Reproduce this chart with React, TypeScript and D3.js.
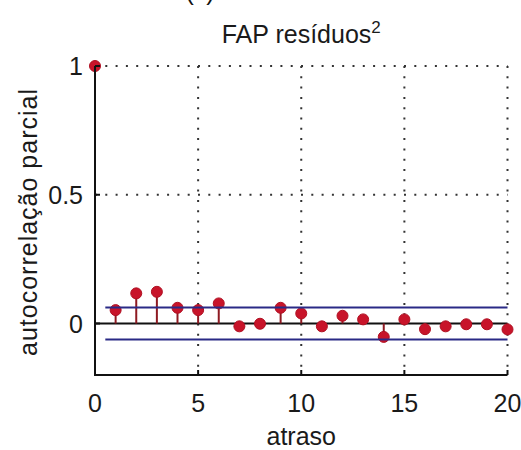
import React, { useEffect, useRef } from 'react';
import * as d3 from 'd3';

// partial autocorrelation of squared residuals, lags 0..20
const lags = [0, 1, 2, 3, 4, 5, 6, 7, 8, 9, 10, 11, 12, 13, 14, 15, 16, 17, 18, 19, 20];
const pacf = [
  1, 0.052, 0.117, 0.123, 0.061, 0.052, 0.078, -0.011, -0.001, 0.061, 0.039,
  -0.011, 0.03, 0.016, -0.052, 0.016, -0.022, -0.011, -0.003, -0.003, -0.023,
];
const bounds = [0.062, -0.062];
const boundStart = 0.5;
const xTicks = [0, 5, 10, 15, 20];
const yTicks = [0, 0.5, 1];

const FONT = '"Liberation Sans", Arial, sans-serif';

const App: React.FC = () => {
  const svgRef = useRef<SVGSVGElement>(null);

  useEffect(() => {
    if (!svgRef.current) return;
    const svg = d3.select(svgRef.current);
    svg.selectAll('*').remove();

    const x = d3.scaleLinear().domain([0, 20]).range([95, 507.5]);
    const y = d3.scaleLinear().domain([-0.2, 1]).range([375, 66]);
    const [x0, x1] = x.range();
    const [yb, yt] = y.range();

    // corner label, mostly cut off at the top edge (as in the source figure)
    svg.append('text')
      .attr('x', 200).attr('y', 0)
      .attr('text-anchor', 'middle')
      .style('font-family', FONT).style('font-size', '25px').style('fill', '#111')
      .text('(c)');

    // dotted grid
    const grid = svg.append('g')
      .attr('stroke', '#333')
      .attr('stroke-width', 2)
      .attr('stroke-dasharray', '2 8.3');
    grid.selectAll('.gx').data(xTicks.filter(d => d > 0)).enter().append('line')
      .attr('x1', d => x(d)).attr('x2', d => x(d))
      .attr('y1', yt).attr('y2', yb);
    grid.selectAll('.gy').data(yTicks.filter(d => d > 0)).enter().append('line')
      .attr('x1', x0).attr('x2', x1)
      .attr('y1', d => y(d)).attr('y2', d => y(d));

    // zero line
    svg.append('line')
      .attr('x1', x(0)).attr('x2', x(20))
      .attr('y1', y(0)).attr('y2', y(0))
      .attr('stroke', '#111').attr('stroke-width', 2);

    // stems
    svg.selectAll('.stem').data(lags).enter().append('line')
      .attr('x1', d => x(d)).attr('x2', d => x(d))
      .attr('y1', y(0)).attr('y2', (d, i) => y(pacf[i]))
      .attr('stroke', '#8e1a22').attr('stroke-width', 2);

    // markers
    svg.selectAll('.dot').data(lags).enter().append('circle')
      .attr('cx', d => x(d)).attr('cy', (d, i) => y(pacf[i]))
      .attr('r', 5.5)
      .attr('fill', '#c8142a')
      .attr('stroke', '#b01022').attr('stroke-width', 1);

    // confidence bounds
    svg.selectAll('.bound').data(bounds).enter().append('line')
      .attr('x1', x(boundStart)).attr('x2', x(20))
      .attr('y1', d => y(d)).attr('y2', d => y(d))
      .attr('stroke', '#2a2a86').attr('stroke-width', 2);

    // axes
    const axes = svg.append('g').attr('stroke', '#111').attr('stroke-width', 2).attr('fill', 'none');
    axes.append('path').attr('d', `M${x0},${yt}V${yb}H${x1}`);
    axes.selectAll('.tx').data(xTicks.filter(d => d > 0)).enter().append('line')
      .attr('x1', d => x(d)).attr('x2', d => x(d))
      .attr('y1', yb).attr('y2', yb - 5);
    axes.selectAll('.ty').data(yTicks).enter().append('line')
      .attr('x1', x0).attr('x2', x0 + 5)
      .attr('y1', d => y(d)).attr('y2', d => y(d));

    const txt = svg.append('g')
      .style('font-family', FONT).style('font-size', '25px').style('fill', '#1a1a1a');

    txt.selectAll('.xl').data(xTicks).enter().append('text')
      .attr('x', d => x(d)).attr('y', 412)
      .attr('text-anchor', 'middle')
      .text(d => d3.format('')(d));

    txt.selectAll('.yl').data(yTicks).enter().append('text')
      .attr('x', 83).attr('y', d => y(d) + 9)
      .attr('text-anchor', 'end')
      .text(d => String(d));

    txt.append('text')
      .attr('x', (x0 + x1) / 2).attr('y', 445)
      .attr('text-anchor', 'middle')
      .text('atraso');

    txt.append('text')
      .attr('transform', 'translate(37,222) rotate(-90)')
      .attr('text-anchor', 'middle')
      .style('letter-spacing', '1px')
      .text('autocorrelação parcial');

    const title = txt.append('text')
      .attr('x', (x0 + x1) / 2).attr('y', 43)
      .attr('text-anchor', 'middle');
    title.append('tspan').text('FAP resíduos');
    title.append('tspan')
      .attr('dy', -10)
      .style('font-size', '17px')
      .text('2');
  }, []);

  return (
    <svg
      ref={svgRef}
      width={521}
      height={450}
      viewBox="0 0 521 450"
      style={{ position: 'absolute', left: 0, top: 0, background: '#fff' }}
    />
  );
};

export default App;
